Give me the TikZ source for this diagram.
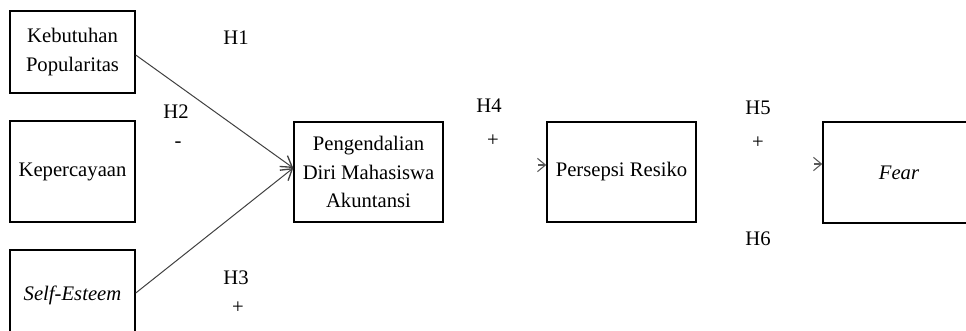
\documentclass[tikz,border=0pt]{standalone}
\usepackage{fontspec}
\setmainfont{Liberation Serif}
\usetikzlibrary{arrows.meta}
\begin{document}
\begin{tikzpicture}[x=0.75pt,y=-0.75pt,
  box/.style={draw,line width=1.1pt,align=center,inner sep=0pt,font=\fontsize{15.5}{21.5}\selectfont},
  lbl/.style={font=\fontsize{15.5}{18}\selectfont,inner sep=0pt},
  conn/.style={draw=black!75,line width=0.75pt,-{Straight Barb[length=8pt,width=10pt,line width=1pt]}},
  stub/.style={draw=black!65,line width=0.8pt,-{Straight Barb[length=6pt,width=10pt]}}]
\useasboundingbox (0,0) rectangle (966,330);
\clip (0,0) rectangle (966,330);
\node[box,minimum width=93.75pt,minimum height=61.5pt] (b1) at (72.5,52) {\raisebox{-3pt}{\parbox{90pt}{\centering Kebutuhan\\Popularitas}}};
\node[box,minimum width=93.75pt,minimum height=75.75pt] (b2) at (72.5,171.5) {Kepercayaan};
\node[box,minimum width=93.75pt,minimum height=67.5pt] (b3) at (72.5,295) {\itshape Self-Esteem};
\node[box,minimum width=111.75pt,minimum height=75pt] (peng) at (368.5,172) {Pengendalian\\Diri Mahasiswa\\Akuntansi};
\node[box,minimum width=111.75pt,minimum height=75pt] (pers) at (621.5,172) {Persepsi Resiko};
\node[box,minimum width=114pt,minimum height=75.75pt] (fear) at (899,172.5) {\itshape Fear};
\node[lbl] (h1) at (236,38) {H1};
\node[lbl] (h2) at (176,112) {H2};
\node[lbl] (s2) at (178,145) {-};
\node[lbl] (h3) at (236,278) {H3};
\node[lbl] (s3) at (238,308) {+};
\node[lbl] (h4) at (489,106) {H4};
\node[lbl] (s4) at (493,141) {+};
\node[lbl] (h5) at (758,108) {H5};
\node[lbl] (s5) at (758,143) {+};
\node[lbl] (h6) at (758,239) {H6};
\draw[conn] ([yshift=-2.25pt]b1.east) -- ([yshift=3pt]peng.west);
\draw[conn] ([yshift=1.5pt]b3.east) -- ([yshift=3pt]peng.west);
\coordinate (c4) at (538,165);
\coordinate (c5) at (814,164);
\draw[stub] (c4) -- (c4 -| pers.west);
\draw[stub] (c5) -- (c5 -| fear.west);
\end{tikzpicture}
\end{document}
